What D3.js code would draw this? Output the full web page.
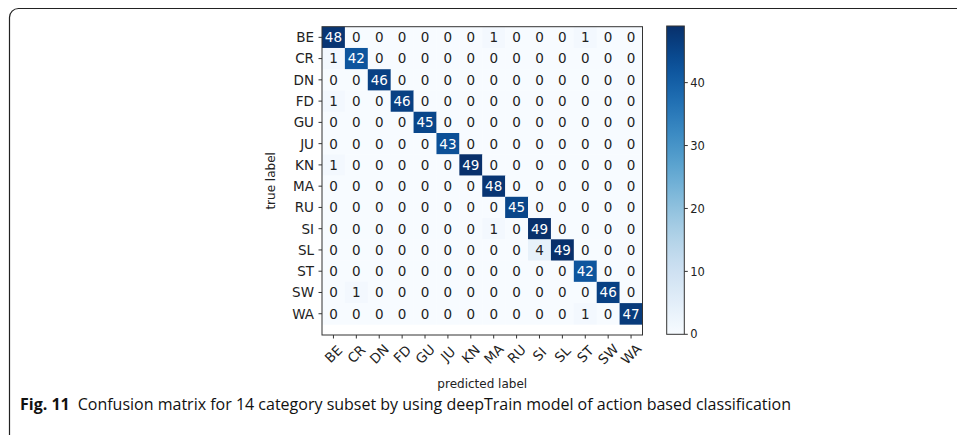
<!DOCTYPE html>
<html><head><meta charset="utf-8">
<script src="https://cdn.jsdelivr.net/npm/d3@7"></script>
<style>
html,body{margin:0;padding:0;background:#fff;}
svg{display:block;}
</style></head>
<body><svg id="chart" width="957" height="435"></svg>
<script>
const categories = ["BE","CR","DN","FD","GU","JU","KN","MA","RU","SI","SL","ST","SW","WA"];
const rowBE = [48,0,0,0,0,0,0,1,0,0,0,1,0,0];
const rowCR = [1,42,0,0,0,0,0,0,0,0,0,0,0,0];
const rowDN = [0,0,46,0,0,0,0,0,0,0,0,0,0,0];
const rowFD = [1,0,0,46,0,0,0,0,0,0,0,0,0,0];
const rowGU = [0,0,0,0,45,0,0,0,0,0,0,0,0,0];
const rowJU = [0,0,0,0,0,43,0,0,0,0,0,0,0,0];
const rowKN = [1,0,0,0,0,0,49,0,0,0,0,0,0,0];
const rowMA = [0,0,0,0,0,0,0,48,0,0,0,0,0,0];
const rowRU = [0,0,0,0,0,0,0,0,45,0,0,0,0,0];
const rowSI = [0,0,0,0,0,0,0,1,0,49,0,0,0,0];
const rowSL = [0,0,0,0,0,0,0,0,0,4,49,0,0,0];
const rowST = [0,0,0,0,0,0,0,0,0,0,0,42,0,0];
const rowSW = [0,1,0,0,0,0,0,0,0,0,0,0,46,0];
const rowWA = [0,0,0,0,0,0,0,0,0,0,0,1,0,47];
const matrix = [rowBE,rowCR,rowDN,rowFD,rowGU,rowJU,rowKN,rowMA,rowRU,rowSI,rowSL,rowST,rowSW,rowWA];
const colorbarTicks = [0,10,20,30,40];
const xAxisLabel = "predicted label";
const yAxisLabel = "true label";
const captionBold = "Fig. 11";
const captionText = "Confusion matrix for 14 category subset by using deepTrain model of action based classification";

(function(){
const svg = d3.select("#chart");
const font = "'DejaVu Sans', sans-serif";

// frame
svg.append("rect").attr("x",9.5).attr("y",8.5).attr("width",1000).attr("height",440)
  .attr("rx",9).attr("fill","none").attr("stroke","#222").attr("stroke-width",1.2);

const pL = 322, pR = 642.5, pT = 26.7, pB = 335;
const n = categories.length;
const vmax = d3.max(matrix.flat());
const x = d3.scaleLinear().domain([-0.5, n-0.5]).range([pL, pR]);
const y = d3.scaleLinear().domain([-0.5, n]).range([pT, pB]);
const color = d3.scaleSequential(d3.interpolateBlues).domain([0, vmax]);

const cells = [];
matrix.forEach((row,i)=>row.forEach((v,j)=>cells.push({i,j,v})));

const g = svg.append("g");
g.selectAll("rect.cell").data(cells).enter().append("rect")
  .attr("x",d=>x(d.j-0.5)).attr("y",d=>y(d.i-0.5))
  .attr("width",x(0.5)-x(-0.5)+0.3).attr("height",y(0.5)-y(-0.5)+0.3)
  .attr("fill",d=>color(d.v));
g.selectAll("text.val").data(cells).enter().append("text")
  .attr("x",d=>x(d.j)).attr("y",d=>y(d.i)).attr("dy","0.36em")
  .attr("text-anchor","middle").attr("font-family",font).attr("font-size",13.5)
  .attr("fill",d=>d.v > vmax/2 ? "#fff" : "#222").text(d=>d.v);

// axes frame
svg.append("rect").attr("x",pL).attr("y",pT).attr("width",pR-pL).attr("height",pB-pT)
  .attr("fill","none").attr("stroke","#333").attr("stroke-width",1);

// y ticks
const yt = svg.append("g");
categories.forEach((c,i)=>{
  yt.append("line").attr("x1",pL-3.5).attr("x2",pL).attr("y1",y(i)).attr("y2",y(i)).attr("stroke","#333");
  yt.append("text").attr("x",pL-8).attr("y",y(i)).attr("dy","0.36em").attr("text-anchor","end")
    .attr("font-family",font).attr("font-size",13.5).attr("fill","#222").text(c);
});
// x ticks
const xt = svg.append("g");
categories.forEach((c,j)=>{
  xt.append("line").attr("x1",x(j)).attr("x2",x(j)).attr("y1",pB).attr("y2",pB+3.5).attr("stroke","#333");
  xt.append("text").attr("transform",`translate(${x(j)},${pB+19}) rotate(-45)`)
    .attr("text-anchor","middle").attr("dy","0.36em")
    .attr("font-family",font).attr("font-size",13.5).attr("fill","#222").text(c);
});
svg.append("text").attr("x",(pL+pR)/2).attr("y",388).attr("text-anchor","middle")
  .attr("font-family",font).attr("font-size",12).attr("fill","#222").text(xAxisLabel);
svg.append("text").attr("transform",`translate(${275},${(pT+pB)/2}) rotate(-90)`).attr("text-anchor","middle")
  .attr("font-family",font).attr("font-size",12).attr("fill","#222").text(yAxisLabel);

// colorbar
const cbL = 666.7, cbR = 684.3;
const cy = d3.scaleLinear().domain([0, vmax]).range([334.3, 26]);
const defs = svg.append("defs");
const grad = defs.append("linearGradient").attr("id","cbg").attr("x1",0).attr("y1",1).attr("x2",0).attr("y2",0);
d3.range(0,1.0001,0.05).forEach(t=>grad.append("stop").attr("offset",t).attr("stop-color",d3.interpolateBlues(t)));
svg.append("rect").attr("x",cbL).attr("y",cy(vmax)).attr("width",cbR-cbL).attr("height",cy(0)-cy(vmax))
  .attr("fill","url(#cbg)").attr("stroke","#333").attr("stroke-width",1);
colorbarTicks.forEach(t=>{
  svg.append("line").attr("x1",cbR).attr("x2",cbR+3.5).attr("y1",cy(t)).attr("y2",cy(t)).attr("stroke","#333");
  svg.append("text").attr("x",cbR+6).attr("y",cy(t)).attr("dy","0.36em").attr("font-family",font)
    .attr("font-size",11.5).attr("fill","#222").text(t);
});

// caption
const cap = svg.append("text").attr("x",20).attr("y",410).attr("font-family","'Open Sans', sans-serif").attr("fill","#111");
cap.append("tspan").attr("font-weight","bold").attr("font-size",16).text(captionBold);
cap.append("tspan").attr("dx",8).attr("font-size",16).text(captionText);
})();
</script></body></html>
